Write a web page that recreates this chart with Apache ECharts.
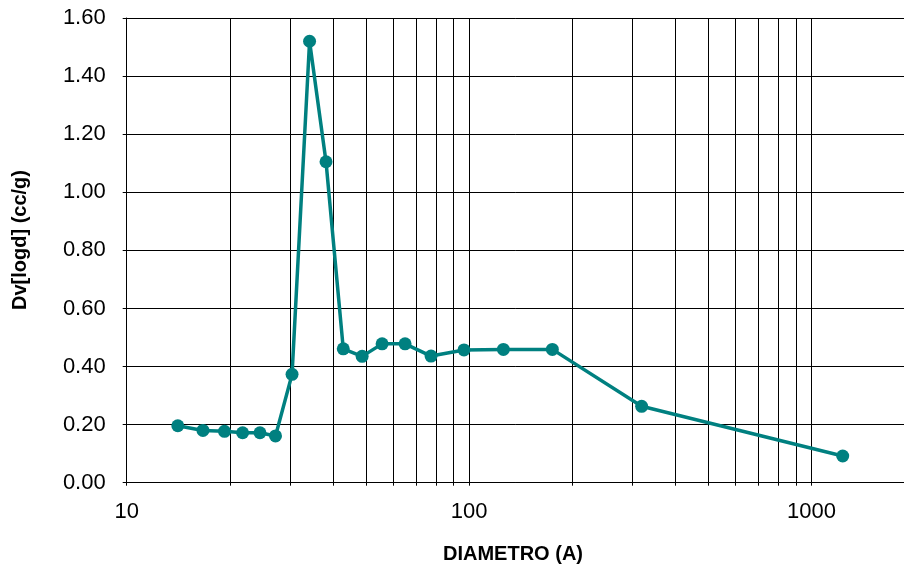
<!DOCTYPE html>
<html>
<head>
<meta charset="utf-8">
<script src="https://cdn.jsdelivr.net/npm/echarts@6/dist/echarts.min.js"></script>
<style>
  html, body { margin: 0; padding: 0; background: #ffffff; }
  #chart { width: 904px; height: 566px; }
</style>
</head>
<body>
<div id="chart"></div>
<script>
// Pore size distribution: diameter (Å) vs Dv[logd] (cc/g)
const diameters = [14.1, 16.7, 19.3, 21.8, 24.5, 27.2, 30.4, 34.2, 38.2, 42.9,
                   48.7, 55.7, 65.0, 77.4, 96.6, 125.9, 175, 319, 1233];
const dvLogd = [0.196, 0.180, 0.177, 0.172, 0.172, 0.161, 0.373, 1.520, 1.105, 0.461,
                0.435, 0.478, 0.478, 0.436, 0.457, 0.459, 0.459, 0.263, 0.092];
const yTicks = [0, 0.2, 0.4, 0.6, 0.8, 1.0, 1.2, 1.4, 1.6];
const xTitle = 'DIAMETRO (A)';
const yTitle = 'Dv[logd] (cc/g)';

const points = diameters.map((d, i) => [d, dvLogd[i]]);
const FONT = '"Liberation Sans", Arial, sans-serif';

const chart = echarts.init(document.getElementById('chart'), null, { renderer: 'canvas' });
chart.setOption({
  animation: false,
  backgroundColor: '#ffffff',
  grid: {
    left: 126.7, top: 18, bottom: 83.3, right: -250,
    outerBoundsMode: 'none',
    containLabel: false
  },
  xAxis: {
    type: 'log',
    logBase: 10,
    min: 10,
    max: 10000,
    axisLine: { show: true, lineStyle: { color: '#000', width: 1 } },
    axisTick: { show: true, length: 3, lineStyle: { color: '#000' } },
    minorTick: { show: true, splitNumber: 9, length: 3, lineStyle: { color: '#000' } },
    axisLabel: {
      fontFamily: FONT, fontSize: 22, color: '#000', margin: 18,
      formatter: v => String(Math.round(v))
    },
    splitLine: { show: true, lineStyle: { color: '#000', width: 1 } },
    minorSplitLine: { show: true, lineStyle: { color: '#000', width: 1 } }
  },
  yAxis: {
    type: 'value',
    min: yTicks[0],
    max: yTicks[yTicks.length - 1],
    interval: 0.2,
    axisLine: { show: true, lineStyle: { color: '#000', width: 1 } },
    axisTick: { show: true, length: 4, lineStyle: { color: '#000' } },
    axisLabel: {
      fontFamily: FONT, fontSize: 22, color: '#000', margin: 21,
      formatter: v => v.toFixed(2)
    },
    splitLine: { show: true, lineStyle: { color: '#000', width: 1 } }
  },
  series: [{
    type: 'line',
    data: points,
    lineStyle: { color: '#008080', width: 3.5 },
    itemStyle: { color: '#008080' },
    symbol: 'circle',
    symbolSize: 13,
    showAllSymbol: true,
    clip: false,
    z: 5
  }],
  graphic: [
    {
      type: 'text',
      x: 513, y: 554,
      style: {
        text: xTitle, fontFamily: FONT, fontWeight: 'bold', fontSize: 20,
        fill: '#000', align: 'center', verticalAlign: 'middle'
      }
    },
    {
      type: 'text',
      x: 20, y: 240,
      rotation: Math.PI / 2,
      style: {
        text: yTitle, fontFamily: FONT, fontWeight: 'bold', fontSize: 20,
        fill: '#000', align: 'center', verticalAlign: 'middle'
      }
    }
  ]
});
</script>
</body>
</html>
